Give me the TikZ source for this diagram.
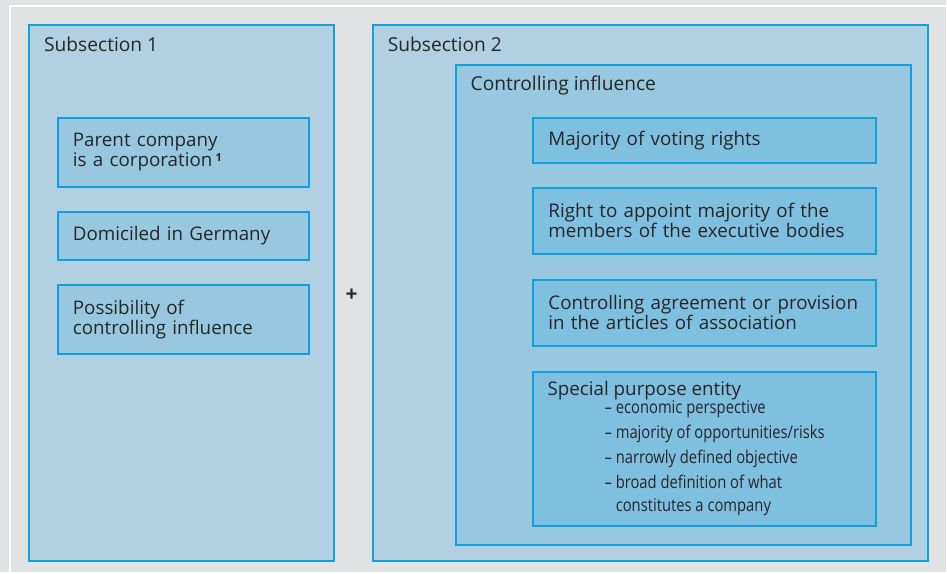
\documentclass[tikz,border=0pt]{standalone}
\usepackage{fontspec}
\setmainfont{Open Sans}
\newfontfamily\narrowfont[FakeStretch=0.84, Ligatures=TeX]{Open Sans}
\usetikzlibrary{positioning}

\definecolor{panelgray}{HTML}{E1E2E4}
\definecolor{frameline}{HTML}{12A0DA}
\definecolor{paleblue}{HTML}{B1D1E2}
\definecolor{midblue}{HTML}{98C7E0}
\definecolor{deepblue}{HTML}{7FC0E0}
\definecolor{inktext}{HTML}{262626}

\begin{document}
\begin{tikzpicture}[x=1pt, y=-1pt,
  every node/.style={text=inktext},
  frame/.style={draw=frameline, line width=2pt, inner sep=0pt, anchor=north west},
  outer/.style={frame, fill=paleblue},
  inner/.style={frame, fill=midblue},
  item/.style={draw=frameline, line width=2pt, anchor=west, inner xsep=15pt, inner ysep=0pt,
               align=left, font=\fontsize{18.8}{20}\selectfont},
  lefti/.style={item, fill=midblue, minimum width=251pt, text width=221pt},
  righti/.style={item, fill=deepblue, minimum width=343pt, text width=313pt},
  heading/.style={anchor=base west, inner sep=0pt, font=\fontsize{19.2}{21}\selectfont}]
% page and panel edge
\fill[panelgray] (0,0) rectangle (947,573);
\draw[white, line width=2pt] (10,573) |- (947,6);

% the two subsections
\node[outer, minimum width=305pt, minimum height=537pt] (subA) at (28,24) {};
\node[outer, minimum width=556pt, minimum height=537pt] (subB) at (372,24) {};
\node[heading] (subAtitle) at (44,52) {Subsection 1};
\node[heading] (subBtitle) at (388,52) {Subsection 2};

% conditions of subsection 1
\node[lefti, minimum height=69pt] (parent) at (57,152.5)
  {Parent company\\is a corporation\,\raisebox{5pt}{\fontsize{11}{11}\selectfont\bfseries 1}};
\node[lefti, minimum height=48pt] (domicile) at (57,236) {Domiciled in Germany};
\node[lefti, minimum height=69pt] (possible) at (57,319.5) {Possibility of\\controlling influence};

\node[font=\fontsize{21}{21}\selectfont\bfseries] (plus) at (352,296) {+};

% controlling influence and its cases
\node[inner, minimum width=456pt, minimum height=481pt] (ctrl) at (455,64) {};
\node[heading] (ctrltitle) at (471,91) {Controlling influence};
\node[righti, minimum height=45pt] (votes) at (533,140.5) {Majority of voting rights};
\node[righti, minimum height=66pt] (appoint) at (533,221)
  {Right to appoint majority of the\\members of the executive bodies};
\node[righti, minimum height=66pt] (agree) at (533,313)
  {Controlling agreement or provision\\in the articles of association};
\node[righti, minimum height=155pt] (spe) at (533,449.5) {};
\node[heading, font=\fontsize{18.8}{20}\selectfont] (spetitle) at (548,396) {Special purpose entity};
% base of a multi-line node is its last line
\node[anchor=base west, inner sep=0pt, align=left,
      font=\narrowfont\fontsize{17.6}{25.3}\selectfont] (spelist) at (605,511.7)
  {– economic perspective\\
   – majority of opportunities/risks\\
   – narrowly defined objective\\
   – broad definition of what\\[-3pt]
   \phantom{– }constitutes a company};
\end{tikzpicture}
\end{document}
